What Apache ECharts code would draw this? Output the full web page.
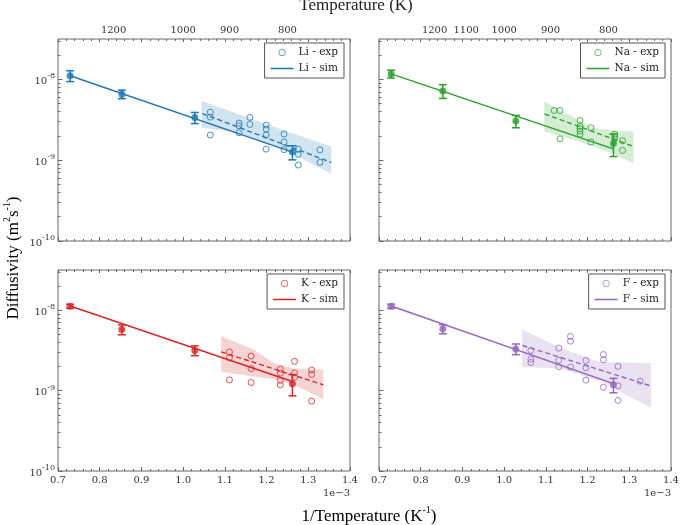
<!DOCTYPE html>
<html>
<head>
<meta charset="utf-8">
<script src="https://cdn.jsdelivr.net/npm/echarts@6/dist/echarts.min.js"></script>
<style>
  html, body { margin: 0; padding: 0; background: #fff; }
  #main { width: 684px; height: 525px; }
</style>
</head>
<body>
<div id="main"></div>
<script>
// x values are 1/T in units of 1e-3 K^-1, y values are D in m^2/s
const simX = [0.729, 0.853, 1.028, 1.262]

const liSim = [1.11e-8, 6.57e-9, 3.37e-9, 1.26e-9]
const liSimErr = [1.7e-9, 0.8e-9, 0.53e-9, 0.25e-9]
const liFit = [[0.729, 1.11e-8], [1.262, 1.26e-9]]
const liExp = [
  [1.065, 3.94e-9], [1.065, 3.41e-9], [1.065, 2.05e-9],
  [1.134, 2.88e-9], [1.134, 2.67e-9], [1.134, 2.19e-9],
  [1.160, 3.38e-9], [1.160, 2.77e-9],
  [1.199, 2.72e-9], [1.199, 2.43e-9], [1.199, 2.05e-9], [1.199, 1.37e-9],
  [1.242, 2.10e-9], [1.242, 1.68e-9], [1.242, 1.35e-9],
  [1.276, 1.37e-9], [1.276, 1.18e-9], [1.276, 8.7e-10],
  [1.328, 1.34e-9], [1.328, 9.4e-10]
]
const liExpFit = [[1.046, 3.78e-9], [1.355, 9.4e-10]]
const liBandUpper = [[1.044, 5.43e-9], [1.137, 3.65e-9], [1.249, 2.27e-9], [1.355, 1.48e-9]]
const liBandLower = [[1.044, 2.54e-9], [1.137, 2.17e-9], [1.249, 1.29e-9], [1.355, 6.8e-10]]
const liTempTicks = [1200, 1000, 900, 800]

const naSim = [1.17e-8, 7.21e-9, 3.05e-9, 1.61e-9]
const naSimErr = [1.3e-9, 1.4e-9, 0.53e-9, 0.5e-9]
const naFit = [[0.729, 1.17e-8], [1.262, 1.38e-9]]
const naExp = [
  [1.120, 4.12e-9], [1.134, 4.12e-9], [1.134, 1.84e-9],
  [1.182, 3.10e-9], [1.182, 2.62e-9], [1.182, 2.45e-9], [1.182, 2.29e-9], [1.182, 2.10e-9],
  [1.208, 2.52e-9], [1.208, 1.68e-9],
  [1.265, 2.10e-9], [1.265, 1.97e-9], [1.265, 1.84e-9],
  [1.284, 1.74e-9], [1.284, 1.32e-9]
]
const naExpFit = [[1.097, 3.75e-9], [1.310, 1.48e-9]]
const naBandUpper = [[1.096, 5.32e-9], [1.166, 3.41e-9], [1.214, 2.50e-9], [1.262, 2.33e-9], [1.310, 2.27e-9]]
const naBandLower = [[1.096, 2.27e-9], [1.166, 1.79e-9], [1.214, 1.48e-9], [1.262, 1.20e-9], [1.310, 9.2e-10]]
const naTempTicks = [1200, 1100, 1000, 900, 800]

const kSim = [1.12e-8, 5.75e-9, 3.16e-9, 1.22e-9]
const kSimErr = [0.65e-9, 0.8e-9, 0.44e-9, 0.36e-9]
const kFit = [[0.729, 1.13e-8], [1.262, 1.30e-9]]
const kExp = [
  [1.111, 3.03e-9], [1.111, 2.56e-9], [1.111, 1.36e-9],
  [1.163, 2.69e-9], [1.163, 1.88e-9], [1.163, 1.26e-9],
  [1.233, 1.85e-9], [1.233, 1.65e-9], [1.233, 1.34e-9], [1.233, 1.18e-9],
  [1.267, 2.31e-9], [1.267, 1.66e-9], [1.267, 1.47e-9],
  [1.308, 1.80e-9], [1.308, 1.59e-9], [1.308, 7.4e-10]
]
const kExpFit = [[1.091, 3.03e-9], [1.336, 1.18e-9]]
const kBandUpper = [[1.091, 4.75e-9], [1.169, 3.25e-9], [1.217, 2.21e-9], [1.265, 1.88e-9], [1.336, 1.83e-9]]
const kBandLower = [[1.091, 1.71e-9], [1.169, 1.50e-9], [1.217, 1.38e-9], [1.265, 1.19e-9], [1.336, 7.8e-10]]

const fSim = [1.12e-8, 5.86e-9, 3.30e-9, 1.18e-9]
const fSimErr = [0.7e-9, 0.77e-9, 0.5e-9, 0.24e-9]
const fFit = [[0.729, 1.13e-8], [1.262, 1.22e-9]]
const fExp = [
  [1.064, 3.16e-9], [1.064, 2.46e-9], [1.064, 2.24e-9],
  [1.131, 3.37e-9], [1.131, 2.39e-9], [1.131, 1.98e-9],
  [1.159, 4.71e-9], [1.159, 4.12e-9], [1.159, 1.96e-9],
  [1.196, 2.37e-9], [1.196, 1.92e-9], [1.196, 1.35e-9],
  [1.238, 2.81e-9], [1.238, 2.42e-9], [1.238, 1.10e-9],
  [1.273, 2.00e-9], [1.273, 1.15e-9], [1.273, 7.55e-10],
  [1.326, 1.31e-9]
]
const fExpFit = [[1.044, 3.64e-9], [1.350, 1.15e-9]]
const fBandUpper = [[1.043, 5.75e-9], [1.134, 3.40e-9], [1.230, 2.26e-9], [1.352, 2.21e-9]]
const fBandLower = [[1.043, 1.96e-9], [1.134, 1.88e-9], [1.230, 1.31e-9], [1.352, 6.1e-10]]

const yMajorTicks = [1e-10, 1e-9, 1e-8]
const yMinorTicks = []
for (const d of [1e-10, 1e-9, 1e-8]) {
  for (let m = 2; m <= 9; m++) {
    if (m * d <= 3.1e-8) yMinorTicks.push(m * d)
  }
}

const panels = [
  { name: "Li", color: "#1f77b4", band: "rgba(31,119,180,0.2)", sim: liSim, err: liSimErr, fit: liFit, exp: liExp, expFit: liExpFit, up: liBandUpper, lo: liBandLower, temps: liTempTicks },
  { name: "Na", color: "#2ca02c", band: "rgba(44,160,44,0.2)", sim: naSim, err: naSimErr, fit: naFit, exp: naExp, expFit: naExpFit, up: naBandUpper, lo: naBandLower, temps: naTempTicks },
  { name: "K", color: "#d62728", band: "rgba(214,39,40,0.2)", sim: kSim, err: kSimErr, fit: kFit, exp: kExp, expFit: kExpFit, up: kBandUpper, lo: kBandLower, temps: null },
  { name: "F", color: "#9467bd", band: "rgba(148,103,189,0.2)", sim: fSim, err: fSimErr, fit: fFit, exp: fExp, expFit: fExpFit, up: fBandUpper, lo: fBandLower, temps: null },
]

const gridPos = [
  { left: 58, top: 39, width: 292, height: 202 },
  { left: 379, top: 39, width: 292, height: 202 },
  { left: 58, top: 270, width: 292, height: 201 },
  { left: 379, top: 270, width: 292, height: 201 },
]

const tickFont = "DejaVu Serif"
const titleFont = "Liberation Serif"
const ringIcon = "path://M10,0A10,10,0,1,1,10,20A10,10,0,1,1,10,0ZM10,2.2A7.8,7.8,0,1,0,10,17.8A7.8,7.8,0,1,0,10,2.2Z"
const lineIcon = "path://M0,0H40V2.6H0Z"

const grid = []
const xAxis = []
const yAxis = []
const series = []
const legend = []

panels.forEach((p, i) => {
  const g = gridPos[i]
  grid.push({ ...g, show: true, borderColor: "#666", borderWidth: 1, backgroundColor: "transparent" })

  const tickStyle = { color: "#666", width: 1 }
  // bottom axis
  xAxis.push({
    gridIndex: i, type: "value", position: "bottom", min: 0.7, max: 1.4, interval: 0.1,
    axisLine: { show: false },
    axisTick: { inside: true, length: 4, lineStyle: tickStyle },
    minorTick: { show: true, splitNumber: 5, length: 2, lineStyle: tickStyle },
    splitLine: { show: false },
    axisLabel: { show: i >= 2, margin: 4, fontFamily: tickFont, fontSize: 10, color: "#333", formatter: v => v.toFixed(1) },
  })
  // top axis (temperature)
  xAxis.push({
    gridIndex: i, type: "value", position: "top", min: 0.7, max: 1.4, interval: 0.1,
    axisLine: { show: false },
    axisTick: { inside: true, length: 3, lineStyle: tickStyle },
    minorTick: { show: true, splitNumber: 5, length: 2, lineStyle: tickStyle },
    splitLine: { show: false },
    axisLabel: {
      show: !!p.temps, margin: 4, fontFamily: tickFont, fontSize: 10, color: "#333",
      customValues: p.temps ? p.temps.map(t => 1000 / t) : [],
      formatter: v => String(Math.round(1000 / v)),
    },
  })
  yAxis.push({
    gridIndex: i, type: "log", logBase: 10, position: "left", min: 1e-10, max: 3.1623e-8,
    axisLine: { show: false },
    axisTick: { inside: true, length: 4.5, lineStyle: tickStyle, customValues: yMajorTicks },
    splitLine: { show: false },
    axisLabel: {
      show: i % 2 === 0, margin: 3, customValues: yMajorTicks,
      formatter: v => "{b|10}{s|" + Math.round(Math.log10(v)) + "}",
      rich: {
        b: { fontFamily: tickFont, fontSize: 10, color: "#333", lineHeight: 14, verticalAlign: "bottom" },
        s: { fontFamily: tickFont, fontSize: 8, color: "#333", lineHeight: 9, verticalAlign: "top" },
      },
    },
  })
  yAxis.push({
    gridIndex: i, type: "log", logBase: 10, position: "left", min: 1e-10, max: 3.1623e-8,
    axisLine: { show: false },
    axisTick: { inside: true, length: 2.5, lineStyle: tickStyle, customValues: yMinorTicks },
    axisLabel: { show: false },
    splitLine: { show: false },
  })

  const xi = 2 * i
  const yi = 2 * i
  const c = p.color

  series.push({
    type: "custom", xAxisIndex: xi, yAxisIndex: yi, silent: true, z: 1,
    data: p.up,
    renderItem: (params, api) => {
      if (params.dataIndex !== 0) return null
      const pts = p.up.concat(p.lo.slice().reverse()).map(pt => api.coord(pt))
      return { type: "polygon", shape: { points: pts }, style: { fill: p.band, stroke: null } }
    },
  })
  series.push({
    type: "line", xAxisIndex: xi, yAxisIndex: yi, z: 3, silent: true,
    data: p.expFit, symbol: "none",
    lineStyle: { color: c, width: 1.4, type: [5, 3] },
  })
  series.push({
    name: p.name + " - sim", type: "line", xAxisIndex: xi, yAxisIndex: yi, z: 3,
    data: p.fit, symbol: "none", itemStyle: { color: c },
    lineStyle: { color: c, width: 1.5 },
  })
  series.push({
    name: p.name + " - exp", type: "scatter", xAxisIndex: xi, yAxisIndex: yi, z: 4,
    data: p.exp, symbol: "circle", symbolSize: 6,
    itemStyle: { color: "rgba(255,255,255,0)", borderColor: c, borderWidth: 1 },
  })
  series.push({
    type: "custom", xAxisIndex: xi, yAxisIndex: yi, z: 4, silent: true,
    data: simX.map((x, k) => [x, p.sim[k], p.err[k]]),
    renderItem: (params, api) => {
      const x = api.value(0)
      const y = api.value(1)
      const e = api.value(2)
      const top = api.coord([x, y + e])
      const bot = api.coord([x, y - e])
      const st = { stroke: c, lineWidth: 1.5 }
      return {
        type: "group",
        children: [
          { type: "line", shape: { x1: top[0], y1: top[1], x2: bot[0], y2: bot[1] }, style: st },
          { type: "line", shape: { x1: top[0] - 4, y1: top[1], x2: top[0] + 4, y2: top[1] }, style: st },
          { type: "line", shape: { x1: bot[0] - 4, y1: bot[1], x2: bot[0] + 4, y2: bot[1] }, style: st },
        ],
      }
    },
  })
  series.push({
    type: "scatter", xAxisIndex: xi, yAxisIndex: yi, z: 5, silent: true,
    data: simX.map((x, k) => [x, p.sim[k]]), symbol: "circle", symbolSize: 7,
    itemStyle: { color: c },
  })

  legend.push({
    orient: "vertical",
    right: 684 - (g.left + g.width) + 6,
    top: g.top + 4,
    selectedMode: false,
    itemWidth: 23, itemHeight: 7, itemGap: 5, itemTextGap: 9,
    padding: [4, 6, 4, 6],
    borderColor: "#555", borderWidth: 1, borderRadius: 0, backgroundColor: "#fff",
    textStyle: { fontFamily: tickFont, fontSize: 10.5, color: "#222" },
    data: [
      { name: p.name + " - exp", icon: ringIcon, itemStyle: { color: c, borderWidth: 0 } },
      { name: p.name + " - sim", icon: lineIcon, itemStyle: { color: c, borderWidth: 0 } },
    ],
  })
})

const supRich = {
  a: { fontFamily: titleFont, fontSize: 17, color: "#222", lineHeight: 20, verticalAlign: "bottom" },
  s: { fontFamily: titleFont, fontSize: 10, color: "#222", lineHeight: 12, verticalAlign: "top" },
}

const chart = echarts.init(document.getElementById("main"))
chart.setOption({
  animation: false,
  backgroundColor: "#fff",
  grid, xAxis, yAxis, series, legend,
  graphic: [
    { type: "text", x: 356, y: 6, style: { text: "Temperature (K)", font: "17px 'Liberation Serif'", fill: "#222", align: "center", verticalAlign: "middle" } },
    { type: "text", x: 369, y: 515, style: { text: "{a|1/Temperature (K}{s|-1}{a|)}", rich: supRich, align: "center", verticalAlign: "middle" } },
    { type: "text", x: 12, y: 258, rotation: Math.PI / 2, style: { text: "{a|Diffusivity (m}{s|2}{a|s}{s|-1}{a|)}", rich: supRich, align: "center", verticalAlign: "middle" } },
    { type: "text", x: 350, y: 493, style: { text: "1e\u22123", font: "10px 'DejaVu Serif'", fill: "#333", align: "right", verticalAlign: "middle" } },
    { type: "text", x: 671, y: 493, style: { text: "1e\u22123", font: "10px 'DejaVu Serif'", fill: "#333", align: "right", verticalAlign: "middle" } },
  ],
})
</script>
</body>
</html>
